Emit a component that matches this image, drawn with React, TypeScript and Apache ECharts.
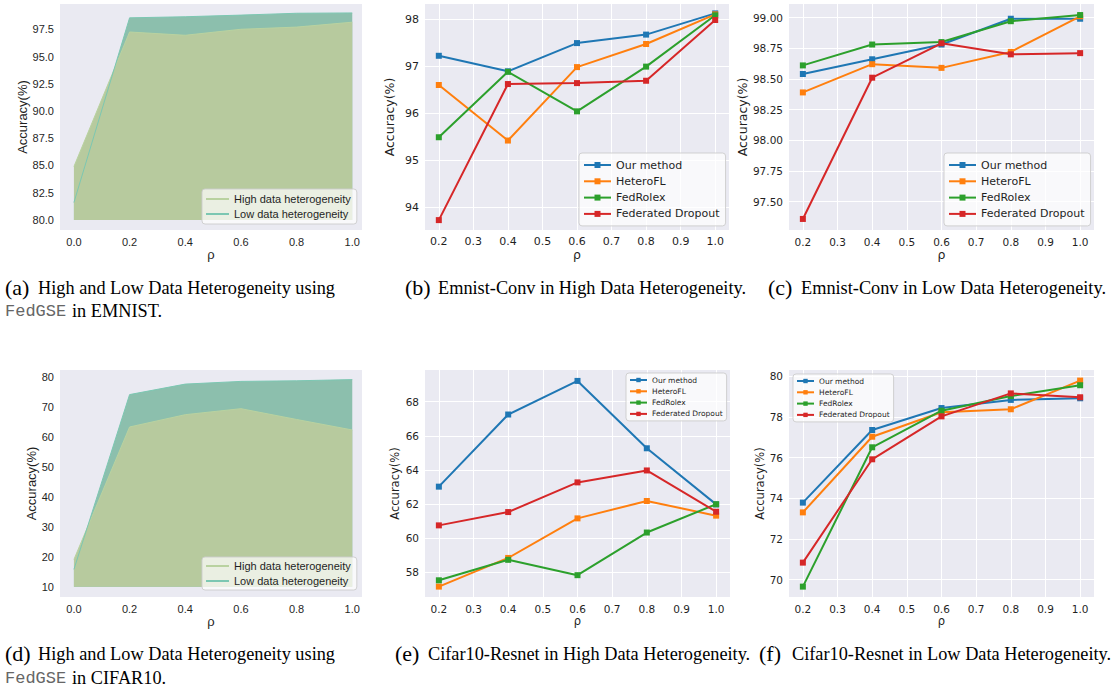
import React, { useEffect, useRef } from 'react';
import * as echarts from 'echarts';

// ---------- data ----------
const RHO_FULL = [0, 0.2, 0.4, 0.6, 0.8, 1.0];
const RHO = [0.2, 0.4, 0.6, 0.8, 1.0];

const METHODS = ['Our method', 'HeteroFL', 'FedRolex', 'Federated Dropout'];
const HET_NAMES = ['High data heterogeneity', 'Low data heterogeneity'];

// tick labels
const X_TICKS_FULL = [0, 0.2, 0.4, 0.6, 0.8, 1.0];
const X_TICKS = [0.2, 0.3, 0.4, 0.5, 0.6, 0.7, 0.8, 0.9, 1.0];
const Y_TICKS_A = [80, 82.5, 85, 87.5, 90, 92.5, 95, 97.5];
const Y_TICKS_B = [94, 95, 96, 97, 98];
const Y_TICKS_C = [97.5, 97.75, 98, 98.25, 98.5, 98.75, 99];
const Y_TICKS_D = [10, 20, 30, 40, 50, 60, 70, 80];
const Y_TICKS_E = [58, 60, 62, 64, 66, 68];
const Y_TICKS_F = [70, 72, 74, 76, 78, 80];

// (a) FedGSE on EMNIST
const emnistHigh = [84.9, 97.25, 96.95, 97.5, 97.7, 98.15];
const emnistLow = [81.6, 98.55, 98.65, 98.8, 98.97, 99.0];
// (d) FedGSE on CIFAR10
const cifarHigh = [19.1, 63.3, 67.4, 69.4, 65.8, 62.3];
const cifarLow = [15.8, 74.1, 77.6, 78.5, 78.7, 79.1];

// (b) Emnist-Conv high heterogeneity
const emnistHighOur = [97.22, 96.89, 97.49, 97.67, 98.12];
const emnistHighHetero = [96.6, 95.42, 96.98, 97.47, 98.1];
const emnistHighRolex = [95.49, 96.88, 96.04, 96.99, 98.08];
const emnistHighDrop = [93.73, 96.62, 96.64, 96.69, 97.98];

// (c) Emnist-Conv low heterogeneity
const emnistLowOur = [98.54, 98.66, 98.78, 98.99, 98.99];
const emnistLowHetero = [98.39, 98.62, 98.59, 98.72, 99.01];
const emnistLowRolex = [98.61, 98.78, 98.8, 98.97, 99.02];
const emnistLowDrop = [97.36, 98.51, 98.79, 98.7, 98.71];

// (e) Cifar10-Resnet high heterogeneity
const cifarHighOur = [63.02, 67.25, 69.22, 65.27, 61.98];
const cifarHighHetero = [57.16, 58.84, 61.16, 62.18, 61.32];
const cifarHighRolex = [57.53, 58.73, 57.83, 60.33, 61.99];
const cifarHighDrop = [60.75, 61.53, 63.27, 63.97, 61.55];

// (f) Cifar10-Resnet low heterogeneity
const cifarLowOur = [73.79, 77.36, 78.44, 78.84, 78.92];
const cifarLowHetero = [73.31, 77.03, 78.23, 78.38, 79.79];
const cifarLowRolex = [69.66, 76.51, 78.31, 79.03, 79.56];
const cifarLowDrop = [70.84, 75.92, 78.03, 79.16, 78.97];

const CAP_LABELS = ['(a)', '(b)', '(c)', '(d)', '(e)', '(f)'];
const CAP_TEXTS = [
  'High and Low Data Heterogeneity using',
  'Emnist-Conv in High Data Heterogeneity.',
  'Emnist-Conv in Low Data Heterogeneity.',
  'High and Low Data Heterogeneity using',
  'Cifar10-Resnet in High Data Heterogeneity.',
  'Cifar10-Resnet in Low Data Heterogeneity.',
];
const CAP_LINE2 = ['in EMNIST.', 'in CIFAR10.'];
const CODE_NAME = 'FedGSE';

// ---------- styling ----------
const COLORS = ['#1f77b4', '#ff7f0e', '#2ca02c', '#d62728'];
const HIGH_FILL = '#b7ca9e';
const LOW_FILL = '#8cbfad';
const HIGH_LINE = '#b9d2a0';
const LOW_LINE = '#7cc7b2';
const BG = '#eaeaf2';
const SANS = "'Liberation Sans', Arial, sans-serif";
const DEJAVU = "'DejaVu Sans', sans-serif";
const SERIF = "'Liberation Serif', 'Times New Roman', serif";
const MONO = "'Liberation Mono', 'DejaVu Sans Mono', monospace";

const pairs = (xs: number[], ys: number[]) => xs.map((x, i) => [x, ys[i]]);

const PANELS = [
  { grid: { left: 60, top: 4, width: 302, height: 226 }, xr: [-0.05, 1.035], xt: X_TICKS_FULL, yr: [79.08, 99.82], yt: Y_TICKS_A, dec: 1, font: SANS, tick: 11, nameSize: 13, yGap: 29.5, xGap: 17, split: false },
  { grid: { left: 425, top: 4, width: 304, height: 226 }, xr: [0.16, 1.04], xt: X_TICKS, yr: [93.52, 98.32], yt: Y_TICKS_B, dec: 0, font: DEJAVU, tick: 11, nameSize: 12.5, yGap: 29.5, xGap: 17, split: true },
  { grid: { left: 789, top: 4, width: 305, height: 226 }, xr: [0.16, 1.04], xt: X_TICKS, yr: [97.27, 99.11], yt: Y_TICKS_C, dec: 2, font: DEJAVU, tick: 10.5, nameSize: 12.5, yGap: 37.5, xGap: 17, split: true },
  { grid: { left: 60, top: 370, width: 302, height: 227 }, xr: [-0.05, 1.035], xt: X_TICKS_FULL, yr: [6.6, 82.3], yt: Y_TICKS_D, dec: 0, font: SANS, tick: 11, nameSize: 13, yGap: 21.5, xGap: 17, split: false },
  { grid: { left: 425, top: 370, width: 305, height: 227 }, xr: [0.16, 1.04], xt: X_TICKS, yr: [56.55, 69.86], yt: Y_TICKS_E, dec: 0, font: DEJAVU, tick: 10.5, nameSize: 11.5, yGap: 24, xGap: 17, split: true },
  { grid: { left: 789, top: 370, width: 305, height: 227 }, xr: [0.16, 1.04], xt: X_TICKS, yr: [69.15, 80.31], yt: Y_TICKS_F, dec: 0, font: DEJAVU, tick: 10.5, nameSize: 11.5, yGap: 23, xGap: 17, split: true },
];

function buildOption() {
  const grid = PANELS.map((p) => ({
    ...p.grid,
    show: true,
    backgroundColor: BG,
    borderWidth: 0,
    containLabel: false,
  }));

  const axisCommon = (p: any, ticks: number[], dec: number) => ({
    type: 'value',
    axisLine: { show: false },
    axisTick: { show: false, customValues: ticks },
    axisLabel: {
      customValues: ticks,
      formatter: (v: number) => v.toFixed(dec),
      fontSize: p.tick,
      fontFamily: p.font,
      color: '#1f1f1f',
      margin: 6,
    },
    splitLine: {
      show: p.split,
      lineStyle: { color: '#ffffff', width: 1 },
    },
  });

  const xAxis = PANELS.map((p, i) => ({
    ...axisCommon(p, p.xt, 1),
    gridIndex: i,
    min: p.xr[0],
    max: p.xr[1],
    name: 'ρ',
    nameLocation: 'middle',
    nameGap: p.xGap,
    nameTextStyle: { fontSize: p.nameSize, fontFamily: p.font, color: '#1f1f1f' },
  }));

  const yAxis = PANELS.map((p, i) => ({
    ...axisCommon(p, p.yt, p.dec),
    gridIndex: i,
    min: p.yr[0],
    max: p.yr[1],
    name: 'Accuracy(%)',
    nameLocation: 'middle',
    nameGap: p.yGap,
    nameTextStyle: { fontSize: p.nameSize, fontFamily: p.font, color: '#1f1f1f' },
  }));

  const series: any[] = [];

  const addHet = (idx: number, high: number[], low: number[], origin: number) => {
    series.push({
      type: 'line', name: 'low-area-' + idx, xAxisIndex: idx, yAxisIndex: idx,
      data: pairs(RHO_FULL, low), symbol: 'none', silent: true,
      lineStyle: { width: 0, color: LOW_FILL }, itemStyle: { color: LOW_FILL },
      areaStyle: { color: LOW_FILL, opacity: 1, origin }, z: 1,
    });
    series.push({
      type: 'line', name: 'high-area-' + idx, xAxisIndex: idx, yAxisIndex: idx,
      data: pairs(RHO_FULL, high), symbol: 'none', silent: true,
      lineStyle: { width: 0, color: HIGH_FILL }, itemStyle: { color: HIGH_FILL },
      areaStyle: { color: HIGH_FILL, opacity: 1, origin }, z: 2,
    });
    series.push({
      type: 'line', name: HET_NAMES[0], xAxisIndex: idx, yAxisIndex: idx,
      data: pairs(RHO_FULL, high), symbol: 'none',
      lineStyle: { width: 1, color: HIGH_LINE }, itemStyle: { color: HIGH_LINE }, z: 3,
    });
    series.push({
      type: 'line', name: HET_NAMES[1], xAxisIndex: idx, yAxisIndex: idx,
      data: pairs(RHO_FULL, low), symbol: 'none',
      lineStyle: { width: 1, color: LOW_LINE }, itemStyle: { color: LOW_LINE }, z: 3,
    });
  };

  const addMethods = (idx: number, sets: number[][]) => {
    sets.forEach((ys, k) => {
      series.push({
        type: 'line', name: METHODS[k], xAxisIndex: idx, yAxisIndex: idx,
        data: pairs(RHO, ys), symbol: 'rect', symbolSize: 6,
        lineStyle: { width: 2, color: COLORS[k] }, itemStyle: { color: COLORS[k] },
        z: 3 + k,
      });
    });
  };

  addHet(0, emnistHigh, emnistLow, 80);
  addMethods(1, [emnistHighOur, emnistHighHetero, emnistHighRolex, emnistHighDrop]);
  addMethods(2, [emnistLowOur, emnistLowHetero, emnistLowRolex, emnistLowDrop]);
  addHet(3, cifarHigh, cifarLow, 10);
  addMethods(4, [cifarHighOur, cifarHighHetero, cifarHighRolex, cifarHighDrop]);
  addMethods(5, [cifarLowOur, cifarLowHetero, cifarLowRolex, cifarLowDrop]);

  const legBox = {
    backgroundColor: 'rgba(255,255,255,0.7)',
    borderColor: 'rgba(204,204,204,0.9)',
    borderWidth: 1,
    borderRadius: 3,
    orient: 'vertical',
    selectedMode: false,
  };
  const hetLegend = (left: number, top: number, pad: number) => ({
    ...legBox, left, top, padding: [pad, 6, pad, 4], itemGap: 3,
    itemWidth: 23, itemHeight: 2, icon: 'rect', data: HET_NAMES,
    textStyle: { fontSize: 11, fontFamily: SANS, color: '#1f1f1f', lineHeight: 12 },
  });
  const bigLegend = (left: number, top: number) => ({
    ...legBox, left, top, padding: [6, 6, 6, 4], itemGap: 4.3,
    itemWidth: 27, itemHeight: 7.5, data: METHODS,
    textStyle: { fontSize: 11, fontFamily: DEJAVU, color: '#1f1f1f', lineHeight: 12 },
  });
  const smallLegend = (left: number, top: number) => ({
    ...legBox, left, top, padding: [2.5, 4, 2.5, 3], itemGap: 2.3,
    itemWidth: 17, itemHeight: 5.5, data: METHODS,
    textStyle: { fontSize: 7.5, fontFamily: DEJAVU, color: '#1f1f1f', lineHeight: 9 },
  });

  const legend = [
    hetLegend(202, 189, 4),
    bigLegend(579, 153),
    bigLegend(944, 153),
    hetLegend(202, 557, 3),
    smallLegend(626, 373),
    smallLegend(793, 374),
  ];

  const capPos = [
    { x: 5, y: 287 },
    { x: 405, y: 287 },
    { x: 768, y: 287 },
    { x: 5, y: 653 },
    { x: 395, y: 653 },
    { x: 759, y: 653 },
  ];
  const graphic: any[] = [];
  CAP_LABELS.forEach((lab, i) => {
    const pos = capPos[i];
    graphic.push({
      type: 'text', x: pos.x, y: pos.y,
      style: { text: lab, fontSize: 22, fontFamily: SERIF, fill: '#000', verticalAlign: 'middle', align: 'left' },
    });
    graphic.push({
      type: 'text', x: pos.x + 33, y: pos.y + 1,
      style: { text: CAP_TEXTS[i], fontSize: 18.3, fontFamily: SERIF, fill: '#000', verticalAlign: 'middle', align: 'left' },
    });
  });
  [287 + 24, 653 + 25].forEach((y, j) => {
    graphic.push({
      type: 'text', x: 5, y,
      style: { text: CODE_NAME, fontSize: 17, fontFamily: MONO, fill: '#666', verticalAlign: 'middle', align: 'left' },
    });
    graphic.push({
      type: 'text', x: 72, y,
      style: { text: CAP_LINE2[j], fontSize: 18.3, fontFamily: SERIF, fill: '#000', verticalAlign: 'middle', align: 'left' },
    });
  });

  return {
    animation: false,
    backgroundColor: '#ffffff',
    grid,
    xAxis,
    yAxis,
    series,
    legend,
    graphic,
  };
}

export default function App() {
  const ref = useRef<HTMLDivElement>(null);
  useEffect(() => {
    if (!ref.current) return;
    const chart = echarts.init(ref.current, undefined, { renderer: 'svg' });
    chart.setOption(buildOption() as any);
    return () => chart.dispose();
  }, []);
  return (
    <div
      ref={ref}
      style={{ position: 'fixed', left: 0, top: 0, width: 1119, height: 689, background: '#fff' }}
    />
  );
}
